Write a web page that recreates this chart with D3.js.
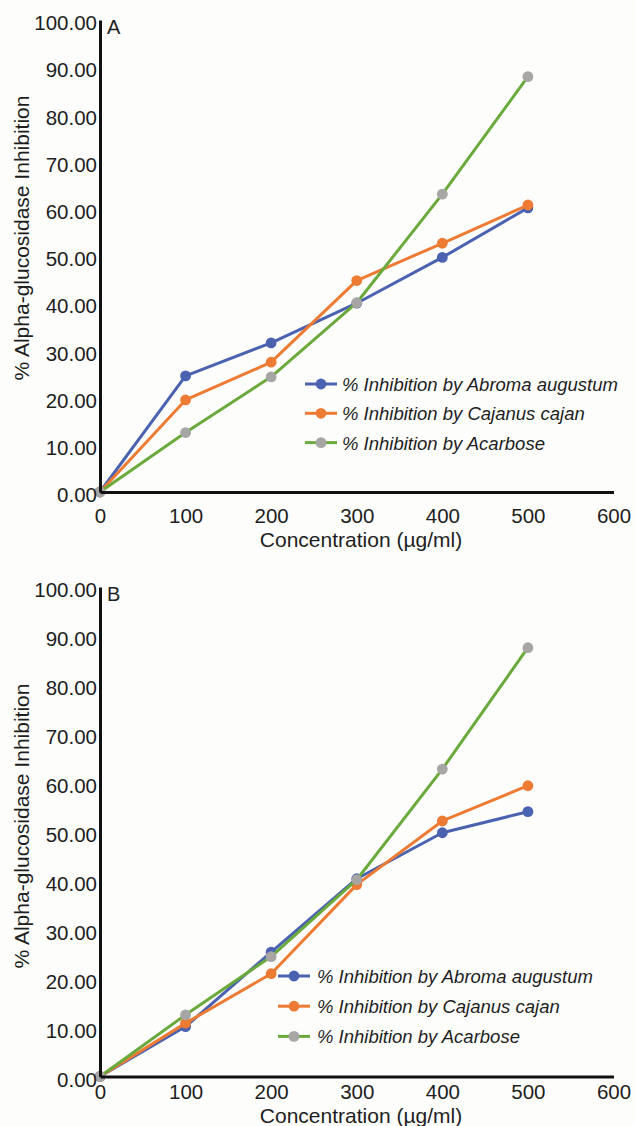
<!DOCTYPE html>
<html>
<head>
<meta charset="utf-8">
<script src="https://cdn.jsdelivr.net/npm/d3@7"></script>
<style>
  html, body { margin: 0; padding: 0; background: #fdfdfc; }
  svg { display: block; }
  text { font-family: "Liberation Sans", Arial, sans-serif; fill: #1e1e1e; }
</style>
</head>
<body>
<svg id="chart" width="635" height="1126"></svg>
<script>
// Concentrations tested (µg/ml)
const concentrations = [0, 100, 200, 300, 400, 500];

// Panel A: % alpha-glucosidase inhibition
const abromaA   = [0, 24.6, 31.6, 40.0, 49.7, 60.2];
const cajanusA  = [0, 19.5, 27.5, 44.8, 52.7, 60.8];
const acarboseA = [0, 12.6, 24.4, 40.1, 63.1, 88.0];

// Panel B: % alpha-glucosidase inhibition
const abromaB   = [0, 10.2, 25.4, 40.4, 49.8, 54.1];
const cajanusB  = [0, 10.9, 21.0, 39.2, 52.2, 59.4];
const acarboseB = [0, 12.6, 24.5, 40.2, 62.8, 87.6];

const seriesNames = [
  "% Inhibition by Abroma augustum",
  "% Inhibition by Cajanus cajan",
  "% Inhibition by Acarbose"
];
const yTicks = [0, 10, 20, 30, 40, 50, 60, 70, 80, 90, 100];
const xTicks = [0, 100, 200, 300, 400, 500, 600];

const lineColors   = ["#4a62b0", "#ed7b33", "#6aaa3c"];
const markerColors = ["#4a62b0", "#ed7b33", "#a8a5a5"];

const svg = d3.select("#chart");

const panels = [
  { label: "A", series: [abromaA, cajanusA, acarboseA],
    top: 20, bottom: 492, xPad: 16, xTitleY: 547, yTitleY: 238,
    legend: { x: 305, y: 384, step: 29.3, textX: 342 } },
  { label: "B", series: [abromaB, cajanusB, acarboseB],
    top: 587, bottom: 1076.5, xPad: 7.5, xTitleY: 1123, yTitleY: 826,
    legend: { x: 278, y: 976, step: 30.2, textX: 317 } }
];

panels.forEach(p => {
  const g = svg.append("g");
  const x = d3.scaleLinear().domain([0, 600]).range([100, 613.5]);
  const y = d3.scaleLinear().domain([0, 100]).range([p.bottom, p.top]);

  // Series lines and markers
  const line = d3.line().x((d, i) => x(concentrations[i])).y(d => y(d));
  p.series.forEach((vals, si) => {
    g.append("path")
      .datum(vals)
      .attr("d", line)
      .attr("fill", "none")
      .attr("stroke", lineColors[si])
      .attr("stroke-width", 3)
      .attr("stroke-linejoin", "round");
    g.selectAll(null)
      .data(vals)
      .enter().append("circle")
      .attr("cx", (d, i) => x(concentrations[i]))
      .attr("cy", d => y(d))
      .attr("r", 5.4)
      .attr("fill", markerColors[si]);
  });

  // Y axis
  const yAxis = g.append("g")
    .attr("transform", "translate(100,0)")
    .call(d3.axisLeft(y).tickValues(yTicks).tickFormat(d3.format(".2f"))
      .tickSize(0).tickPadding(3));
  yAxis.select(".domain").attr("stroke", "#111").attr("stroke-width", 3);
  yAxis.selectAll("text")
    .attr("dy", "0.47em")
    .style("font-size", "20.5px")
    .style("font-family", "'Liberation Sans', Arial, sans-serif")
    .attr("fill", "#1e1e1e");

  // X axis
  const xAxis = g.append("g")
    .attr("transform", `translate(0,${p.bottom})`)
    .call(d3.axisBottom(x).tickValues(xTicks).tickFormat(d3.format("d"))
      .tickSize(0).tickPadding(p.xPad));
  xAxis.select(".domain").attr("stroke", "#111").attr("stroke-width", 3);
  xAxis.selectAll("text")
    .style("font-size", "20.5px")
    .style("font-family", "'Liberation Sans', Arial, sans-serif")
    .attr("fill", "#1e1e1e");

  // Panel letter
  g.append("text")
    .attr("x", 107)
    .attr("y", p.top + 14)
    .style("font-size", "20px")
    .text(p.label);

  // Axis titles
  g.append("text")
    .attr("x", 361)
    .attr("y", p.xTitleY)
    .attr("text-anchor", "middle")
    .style("font-size", "21px")
    .text("Concentration (µg/ml)");

  g.append("text")
    .attr("transform", `translate(29,${p.yTitleY}) rotate(-90)`)
    .attr("text-anchor", "middle")
    .style("font-size", "21px")
    .text("% Alpha-glucosidase Inhibition");

  // Legend
  const lg = g.append("g");
  seriesNames.forEach((name, si) => {
    const ly = p.legend.y + si * p.legend.step;
    lg.append("line")
      .attr("x1", p.legend.x).attr("x2", p.legend.x + 32)
      .attr("y1", ly).attr("y2", ly)
      .attr("stroke", lineColors[si]).attr("stroke-width", 3);
    lg.append("circle")
      .attr("cx", p.legend.x + 16).attr("cy", ly).attr("r", 5.4)
      .attr("fill", markerColors[si]);
    lg.append("text")
      .attr("x", p.legend.textX)
      .attr("y", ly + 7)
      .style("font-size", "18.5px")
      .style("font-style", "italic")
      .text(name);
  });
});
</script>
</body>
</html>
